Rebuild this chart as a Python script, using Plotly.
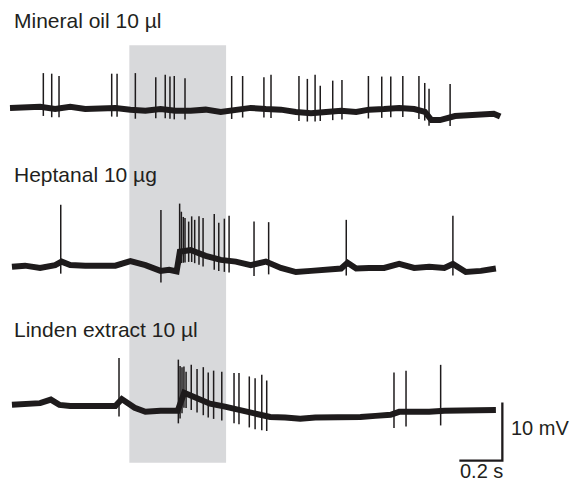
import numpy as np
import plotly.graph_objects as go

# ---------------- data (time in s, potential in mV relative to each trace's rest) ----------
labels = ["Mineral oil 10 \u00b5l", "Heptanal 10 \u00b5g", "Linden extract 10 \u00b5l"]

stim_start, stim_end = 0.555, 1.005   # stimulus window (s)

# Trace 1: Mineral oil
t1_base = [0, 0.07, 0.14, 0.21, 0.28, 0.35, 0.42, 0.49, 0.56, 0.63, 0.70, 0.77, 0.84, 0.91,
           0.98, 1.05, 1.12, 1.19, 1.26, 1.33, 1.40, 1.47, 1.54, 1.61, 1.67, 1.74, 1.81, 1.88,
           1.93, 1.96, 2.00, 2.07, 2.14, 2.21, 2.25, 2.28]
v1_base = [0, 0.2, 0.2, -0.2, 0.2, -0.2, 0, 0, -0.3, -0.5, -0.2, -0.5, -0.5, -0.3,
           -0.7, -0.3, 0, -0.2, -0.3, -0.7, -0.9, -0.7, -0.5, -0.7, -0.3, -0.2, 0, -0.2,
           -0.7, -2.1, -2.1, -1.4, -1.2, -0.9, -1.0, -1.5]
t1_spk = [0.155, 0.194, 0.228, 0.473, 0.498, 0.583, 0.678, 0.722, 0.744, 0.764, 0.814,
          1.031, 1.082, 1.181, 1.214, 1.344, 1.383, 1.419, 1.443, 1.501, 1.544, 1.667,
          1.729, 1.771, 1.827, 1.902, 1.929, 1.949, 2.047]
v1_spk = [6.0, 5.9, 5.5, 5.9, 5.9, 6.0, 5.3, 5.7, 5.4, 5.5, 5.1,
          5.5, 5.5, 5.3, 5.7, 5.5, 5.0, 5.7, 3.8, 4.7, 4.8, 5.5,
          5.4, 5.4, 5.5, 5.5, 4.3, 3.3, 4.1]

# Trace 2: Heptanal
t2_base = [0.009, 0.07, 0.14, 0.21, 0.24, 0.28, 0.35, 0.42, 0.49, 0.56, 0.63, 0.70, 0.74,
           0.775, 0.79, 0.84, 0.91, 0.98, 1.05, 1.12, 1.19, 1.26, 1.33, 1.40, 1.47, 1.54,
           1.57, 1.61, 1.67, 1.74, 1.81, 1.88, 1.95, 2.02, 2.06, 2.12, 2.19, 2.26]
v2_base = [0, 0.2, -0.2, 0.3, 0.9, 0.3, 0.2, 0.3, 0.2, 1.0, 0.3, -0.7, -0.5,
           -0.8, 2.6, 2.9, 1.9, 1.2, 0.9, 0.3, 0.9, -0.2, -0.9, -0.7, -0.5, -0.3,
           0.7, -0.3, -0.2, -0.2, 0.5, -0.2, 0, -0.2, 0.5, -0.9, -0.7, -0.3]
t2_spk = [0.236, 0.702, 0.789, 0.797, 0.806, 0.814, 0.831, 0.845, 0.859, 0.879, 0.898,
          0.950, 0.971, 0.997, 1.019, 1.135, 1.203, 1.564, 2.060]
v2_spk = [10.7, 9.8, 10.9, 9.5, 8.6, 8.4, 7.8, 8.7, 8.1, 8.7, 8.4,
          9.1, 7.6, 8.3, 8.8, 7.8, 7.7, 8.1, 8.8]

# Trace 3: Linden extract
t3_base = [0.009, 0.07, 0.14, 0.19, 0.23, 0.28, 0.35, 0.42, 0.49, 0.52, 0.58, 0.63, 0.70,
           0.77, 0.78, 0.81, 0.87, 0.93, 1.00, 1.07, 1.14, 1.21, 1.28, 1.35, 1.42, 1.49,
           1.56, 1.63, 1.70, 1.77, 1.81, 1.84, 1.88, 1.95, 2.02, 2.09, 2.16, 2.26]
v3_base = [0, 0.2, 0.3, 0.9, 0, -0.2, -0.3, -0.2, -0.2, 1.0, -0.5, -1.2, -1.0,
           -1.2, -1.0, 2.1, 1.2, 0.2, -0.3, -0.9, -1.7, -2.1, -2.2, -2.4, -2.2, -2.2,
           -2.1, -2.1, -1.9, -1.7, -1.2, -1.2, -1.4, -1.2, -1.0, -1.0, -0.9, -0.9]
t3_spk = [0.507, 0.783, 0.791, 0.800, 0.809, 0.819, 0.843, 0.870, 0.899, 0.922, 0.947,
          0.985, 1.042, 1.065, 1.113, 1.140, 1.171, 1.194, 1.786, 1.842, 2.003]
v3_spk = [8.1, 7.8, 6.7, 6.5, 6.6, 5.7, 6.9, 6.2, 6.5, 5.6, 5.9,
          5.7, 5.5, 5.5, 4.9, 4.6, 5.2, 4.2, 5.6, 5.9, 6.9]

undershoot = [1.5, 2.0, 2.5]          # spike after-hyperpolarisation depth (mV)
offsets = [64.5, 37.1, 13.3]          # vertical stacking of traces (mV)

scale_t, scale_v = 0.2, 10            # scale bar: 0.2 s, 10 mV

# ---------------- figure ----------------
W, H = 571, 482
PX_PER_S, PX_PER_MV = 215.0, 5.8
X0_PX = 10
xr = [-X0_PX / PX_PER_S, (W - X0_PX) / PX_PER_S]
yr = [0, H / PX_PER_MV]

traces = [(t1_base, v1_base, t1_spk, v1_spk),
          (t2_base, v2_base, t2_spk, v2_spk),
          (t3_base, v3_base, t3_spk, v3_spk)]

INK = "#1e1b1c"
fig = go.Figure()

for i, (tb, vb, ts, vs) in enumerate(traces):
    off = offsets[i]
    fig.add_trace(go.Scatter(x=tb, y=[v + off for v in vb], mode="lines",
                             line=dict(color=INK, width=6), hoverinfo="skip",
                             showlegend=False))
    base_at = np.interp(ts, tb, vb)
    sx, sy = [], []
    for t, v, b in zip(ts, vs, base_at):
        sx += [t, t, None]
        sy += [v + off, b - undershoot[i] + off, None]
    fig.add_trace(go.Scatter(x=sx, y=sy, mode="lines",
                             line=dict(color=INK, width=1.5), hoverinfo="skip",
                             showlegend=False))

# stimulus shading
fig.add_shape(type="rect", xref="x", yref="y", x0=stim_start, x1=stim_end,
              y0=3.3, y1=75.3, fillcolor="#d8d9db", line=dict(width=0), layer="below")

# scale bar
cx, cy = 2.29, 3.7
fig.add_trace(go.Scatter(x=[cx - scale_t, cx, cx], y=[cy, cy, cy + scale_v], mode="lines",
                         line=dict(color=INK, width=2.3), hoverinfo="skip", showlegend=False))

FONT = dict(family="Liberation Sans, Arial, Helvetica, sans-serif", size=21, color="#231f20")


def px_ann(text, x_px, y_px, size=21):
    fig.add_annotation(text=text, xref="paper", yref="paper", x=x_px / W, y=1 - y_px / H,
                       xanchor="left", yanchor="middle", showarrow=False,
                       font=dict(FONT, size=size))


px_ann(labels[0], 12, 21)
px_ann(labels[1], 12, 174)
px_ann(labels[2], 12, 329)
px_ann(f"{scale_v} mV", 509, 428, 20)
px_ann(f"{scale_t} s", 458, 471, 20)

fig.update_layout(width=W, height=H, margin=dict(l=0, r=0, t=0, b=0, pad=0),
                  plot_bgcolor="white", paper_bgcolor="white",
                  xaxis=dict(range=xr, visible=False, fixedrange=True),
                  yaxis=dict(range=yr, visible=False, fixedrange=True))

fig.write_html("out.html", config={"displayModeBar": False},
               post_script="document.body.style.margin='0px';document.body.style.overflow='hidden';")
